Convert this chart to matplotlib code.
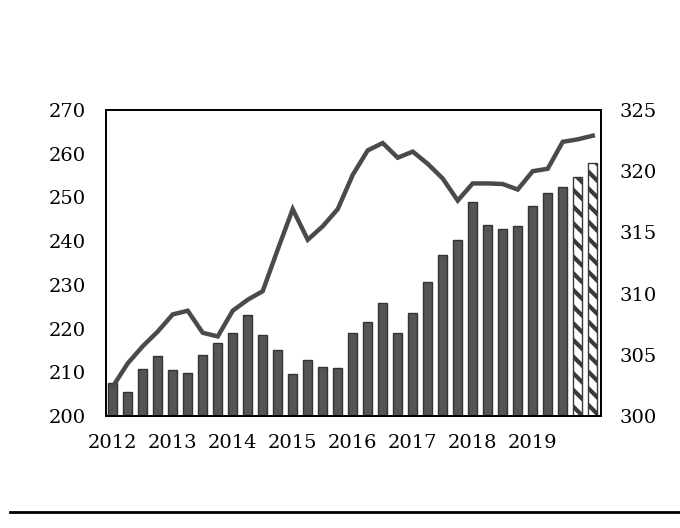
import matplotlib
matplotlib.use("Agg")
import matplotlib.pyplot as plt
import numpy as np

plt.rcParams['font.family'] = ['DejaVu Serif']
plt.rcParams['hatch.linewidth'] = 3.0
plt.rcParams['hatch.color'] = '#333333'

years = ["2012", "2013", "2014", "2015", "2016", "2017", "2018", "2019"]
bar_values = [207.6, 205.5, 210.7, 213.8, 210.5, 209.8, 213.9, 216.6,
              218.9, 223.1, 218.6, 215.0, 209.6, 212.7, 211.1, 210.9,
              218.9, 221.4, 225.8, 218.9, 223.6, 230.6, 236.8, 240.3,
              248.9, 243.8, 242.8, 243.5, 248.0, 250.9, 252.3, 254.6, 257.8]
forecast = [False] * 31 + [True, True]
line_values = [302.4, 304.3, 305.7, 306.9, 308.3, 308.6, 306.8, 306.5,
               308.6, 309.5, 310.2, 313.6, 316.9, 314.4, 315.5, 316.9,
               319.7, 321.7, 322.3, 321.1, 321.6, 320.6, 319.4, 317.6,
               319.0, 319.0, 318.95, 318.5, 320.0, 320.2, 322.4, 322.6, 322.9]

x = np.arange(len(bar_values))

fig = plt.figure(figsize=(6.8, 5.28), dpi=100)
ax = fig.add_axes([0.1554, 0.2121, 0.7284, 0.5796])
ax2 = ax.twinx()

for xi, v, fc in zip(x, bar_values, forecast):
    if fc:
        ax.bar(xi, v - 200, bottom=200, width=0.62, color="white",
               edgecolor="#3a3a3a", linewidth=1.0, hatch="\\\\", zorder=2)
    else:
        ax.bar(xi, v - 200, bottom=200, width=0.62, color="#555555",
               edgecolor="#333333", linewidth=1.0, zorder=2)

ax2.plot(x, line_values, color="#4a4a4a", linewidth=3.2, solid_joinstyle="miter")

ax.set_xlim(-0.47, 32.55)
ax.set_ylim(200, 270)
ax2.set_ylim(300, 325)
ax.set_yticks(np.arange(200, 271, 10))
ax2.set_yticks(np.arange(300, 326, 5))
ax.set_xticks(np.arange(0, 32, 4))
ax.set_xticklabels(years)

for a in (ax, ax2):
    a.tick_params(length=0, labelsize=14)
    for s in a.spines.values():
        s.set_linewidth(1.3)
        s.set_color("black")
ax.tick_params(axis='y', pad=14)
ax2.tick_params(axis='y', pad=13)
ax.tick_params(axis='x', pad=13)

fig.add_artist(plt.Line2D([10/680, 1.0], [1 - 511.5/528] * 2, color="black",
                          linewidth=2.0, transform=fig.transFigure))

fig.savefig("out.png", dpi=100)
